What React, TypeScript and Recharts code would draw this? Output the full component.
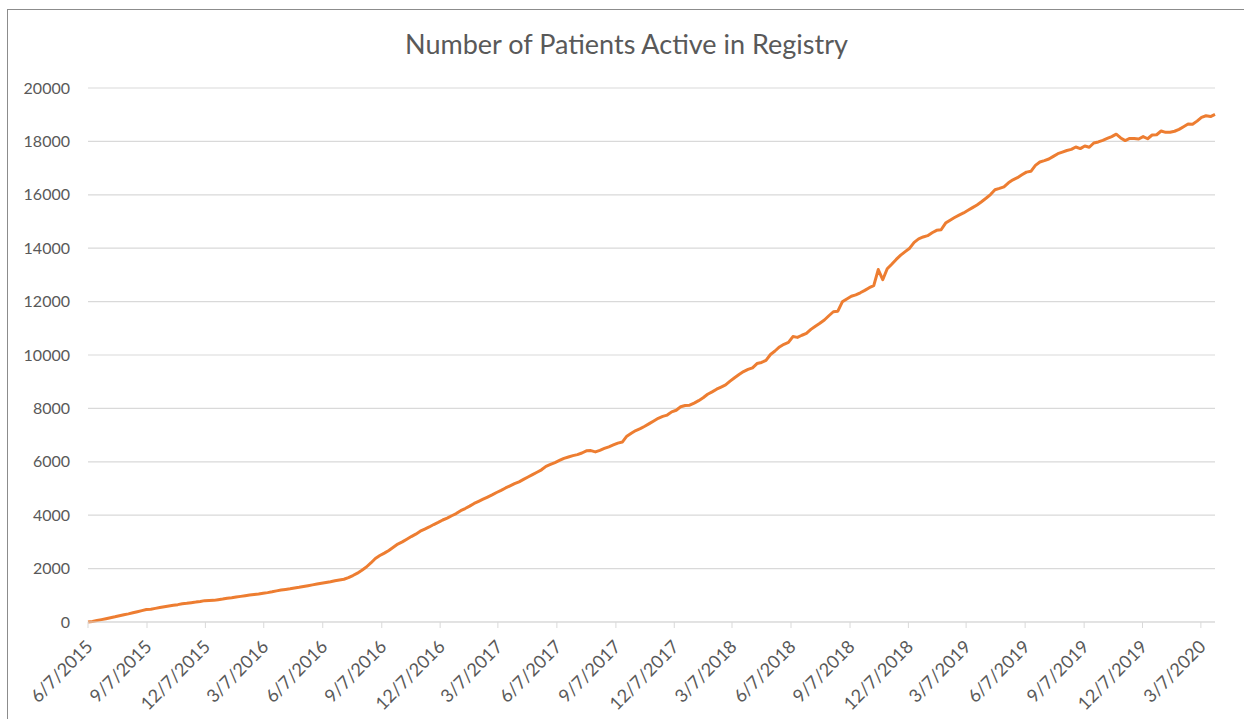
import { LineChart, Line, XAxis, YAxis, CartesianGrid } from 'recharts';

// weekly counts, first point is 6/7/2015
const START_DATE = '6/7/2015';
const STEP_DAYS = 7;

const activePatients = [
  0, 20, 55, 90, 125, 160, 195, 235, 270, 305,
  345, 385, 425, 465, 480, 510, 540, 570, 600, 625,
  650, 680, 700, 725, 745, 770, 800, 805, 810, 835,
  860, 890, 910, 935, 960, 985, 1010, 1030, 1050, 1075,
  1100, 1130, 1165, 1195, 1220, 1245, 1275, 1300, 1330, 1360,
  1390, 1420, 1450, 1480, 1510, 1545, 1575, 1600, 1660, 1740,
  1830, 1940, 2060, 2210, 2380, 2490, 2580, 2680, 2800, 2920,
  3000, 3100, 3200, 3290, 3400, 3480, 3560, 3650, 3730, 3820,
  3890, 3980, 4060, 4170, 4250, 4340, 4440, 4520, 4600, 4680,
  4760, 4850, 4930, 5020, 5100, 5180, 5250, 5340, 5430, 5520,
  5610, 5700, 5830, 5900, 5970, 6050, 6130, 6180, 6230, 6270,
  6330, 6410, 6420, 6370, 6430, 6500, 6560, 6630, 6700, 6740,
  6960, 7070, 7170, 7240, 7330, 7430, 7530, 7630, 7700, 7750,
  7870, 7930, 8060, 8110, 8120, 8200, 8290, 8400, 8530, 8620,
  8720, 8800, 8880, 9020, 9150, 9270, 9380, 9460, 9520, 9680,
  9720, 9800, 10020, 10150, 10300, 10400, 10470, 10690, 10660, 10740,
  10810, 10960, 11080, 11190, 11310, 11470, 11620, 11640, 11990, 12100,
  12200, 12250, 12330, 12420, 12520, 12600, 13200, 12820, 13230, 13400,
  13580, 13740, 13870, 14000, 14220, 14350, 14420, 14470, 14580, 14670,
  14690, 14940, 15050, 15150, 15240, 15320, 15420, 15520, 15620, 15740,
  15870, 16010, 16190, 16240, 16300, 16450, 16560, 16640, 16750, 16850,
  16880, 17100, 17230, 17280, 17340, 17440, 17540, 17600, 17660, 17700,
  17790, 17730, 17830, 17780, 17940, 17980, 18040, 18110, 18180, 18270,
  18130, 18030, 18110, 18110, 18090, 18180, 18100, 18240, 18250, 18390,
  18340, 18340, 18380, 18450, 18550, 18650, 18640, 18760, 18900, 18960,
  18930, 19010,
];

const xTickLabels = [
  '6/7/2015', '9/7/2015', '12/7/2015', '3/7/2016', '6/7/2016', '9/7/2016',
  '12/7/2016', '3/7/2017', '6/7/2017', '9/7/2017', '12/7/2017', '3/7/2018',
  '6/7/2018', '9/7/2018', '12/7/2018', '3/7/2019', '6/7/2019', '9/7/2019',
  '12/7/2019', '3/7/2020',
];

const yTicks = [0, 2000, 4000, 6000, 8000, 10000, 12000, 14000, 16000, 18000, 20000];

const DAY_MS = 86400000;
const toUtc = (s: string) => {
  const [m, d, y] = s.split('/').map(Number);
  return Date.UTC(y, m - 1, d);
};
const dayOf = (s: string) => Math.round((toUtc(s) - toUtc(START_DATE)) / DAY_MS);

const data = activePatients.map((v, i) => ({ day: i * STEP_DAYS, value: v }));
const xTicks = xTickLabels.map(dayOf);
const labelByDay: Record<number, string> = {};
xTickLabels.forEach((l) => (labelByDay[dayOf(l)] = l));

const FONT = 'Lato, "Open Sans", sans-serif';
const TEXT = '#595959';

function DateTick(props: any) {
  const { x, y, payload } = props;
  const ax = x + 1;
  const ay = y + 13;
  return (
    <text
      x={ax}
      y={ay}
      transform={`rotate(-45, ${ax}, ${ay})`}
      textAnchor="end"
      dominantBaseline="central"
      fill={TEXT}
      fontSize={18}
      fontFamily={FONT}
    >
      {labelByDay[payload.value]}
    </text>
  );
}

export default function App() {
  const lastDay = (activePatients.length - 1) * STEP_DAYS;
  return (
    <div
      style={{
        position: 'absolute',
        left: 7,
        top: 9,
        width: 1237,
        height: 712,
        borderLeft: '1px solid #8c8c8c',
        borderTop: '1px solid #8c8c8c',
        background: '#fff',
        fontFamily: FONT,
      }}
    >
      <div
        style={{
          position: 'absolute',
          left: 0,
          right: 0,
          top: 17,
          textAlign: 'center',
          fontSize: 27,
          color: TEXT,
        }}
      >
        Number of Patients Active in Registry
      </div>
      <LineChart
        width={1237}
        height={710}
        data={data}
        margin={{ top: 78, right: 30, bottom: 8, left: 0 }}
      >
        <CartesianGrid horizontal vertical={false} stroke="#d9d9d9" strokeWidth={1.2} />
        <XAxis
          dataKey="day"
          type="number"
          domain={[0, lastDay]}
          ticks={xTicks}
          interval={0}
          height={90}
          stroke="#d9d9d9"
          tickSize={6}
          tick={<DateTick />}
        />
        <YAxis
          domain={[0, 20000]}
          ticks={yTicks}
          width={80}
          axisLine={false}
          tickLine={false}
          tickMargin={12}
          tick={{ fill: TEXT, fontSize: 16, fontFamily: FONT }}
        />
        <Line
          dataKey="value"
          type="linear"
          stroke="#ed7d31"
          strokeWidth={3}
          dot={false}
          strokeLinejoin="round"
          isAnimationActive={false}
        />
      </LineChart>
    </div>
  );
}
